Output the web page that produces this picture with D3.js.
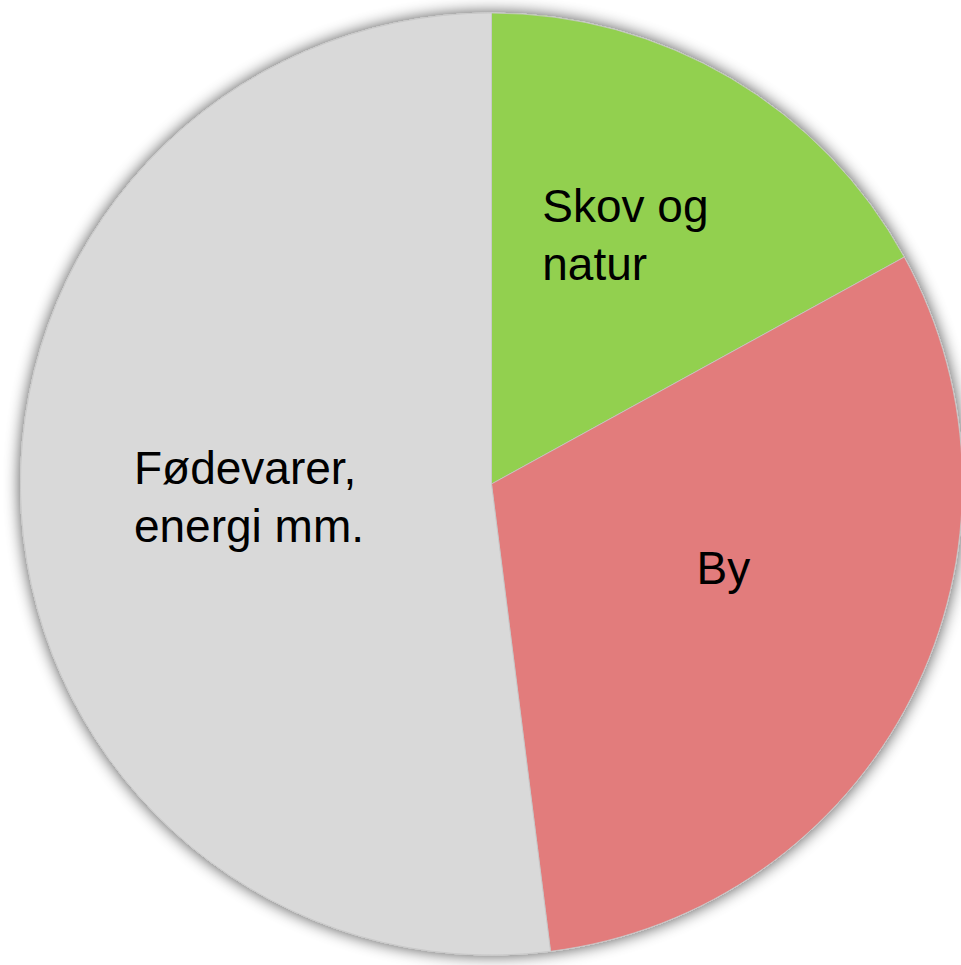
<html><head>
<meta charset="UTF-8">
<title>Arealanvendelse</title>
<script src="https://cdn.jsdelivr.net/npm/d3@7"></script>
<style>
  html, body { margin: 0; padding: 0; background: #fff; overflow: hidden; }
  #chart { width: 961px; height: 965px; }
  .label { font-family: "Liberation Sans", Arial, sans-serif; font-size: 46px; fill: #000; }
</style>
</head>
<body>
<div id="chart"></div>
<script>
// slice data (percent), read clockwise from 12 o'clock
const categories = ["Skov og natur", "By", "Fødevarer, energi mm."];
const values = [17.0, 31.0, 52.0];
const colors = ["#92d050", "#e27c7c", "#d9d9d9"];
const labelLines = [["Skov og", "natur"], ["By"], ["Fødevarer,", "energi mm."]];

const width = 961, height = 965;
const cx = 491.5, cy = 484, radius = 471;

const svg = d3.select("#chart").append("svg")
    .attr("width", width)
    .attr("height", height);

// soft outer shadow round the pie
const defs = svg.append("defs");
const f = defs.append("filter").attr("id", "shadow")
    .attr("x", "-10%").attr("y", "-10%").attr("width", "120%").attr("height", "120%");
f.append("feGaussianBlur").attr("in", "SourceAlpha").attr("stdDeviation", 8).attr("result", "blur");
f.append("feComponentTransfer").attr("in", "blur").attr("result", "soft")
  .append("feFuncA").attr("type", "linear").attr("slope", 0.7);
const merge = f.append("feMerge");
merge.append("feMergeNode").attr("in", "soft");
merge.append("feMergeNode").attr("in", "SourceGraphic");

const g = svg.append("g").attr("transform", `translate(${cx},${cy})`);

const pie = d3.pie().sort(null).value(d => d)(values);
const arc = d3.arc().innerRadius(0).outerRadius(radius);

g.append("g").attr("filter", "url(#shadow)")
  .selectAll("path")
  .data(pie)
  .enter().append("path")
    .attr("d", arc)
    .attr("fill", (d, i) => colors[i])
    .attr("stroke", "#c8c8c8")
    .attr("stroke-width", 0.8);

// label placement: centroid on a mid-radius ring plus a small nudge
const labelArc = d3.arc().innerRadius(radius * 0.55).outerRadius(radius * 0.55);
const nudges = [[2, -26], [1, -34], [16, -3]];
const lineHeight = 58;

pie.forEach((d, i) => {
  const [x, y] = labelArc.centroid(d);
  const px = x + nudges[i][0], py = y + nudges[i][1];
  const lines = labelLines[i];
  const t = g.append("text").attr("class", "label");
  const spans = lines.map((ln, k) =>
    t.append("tspan").attr("x", 0)
      .attr("y", py + (k - (lines.length - 1) / 2) * lineHeight + 16).text(ln));
  const w = d3.max(spans, s => s.node().getComputedTextLength());
  spans.forEach(s => s.attr("x", px - w / 2));
});
</script>
</body></html>
